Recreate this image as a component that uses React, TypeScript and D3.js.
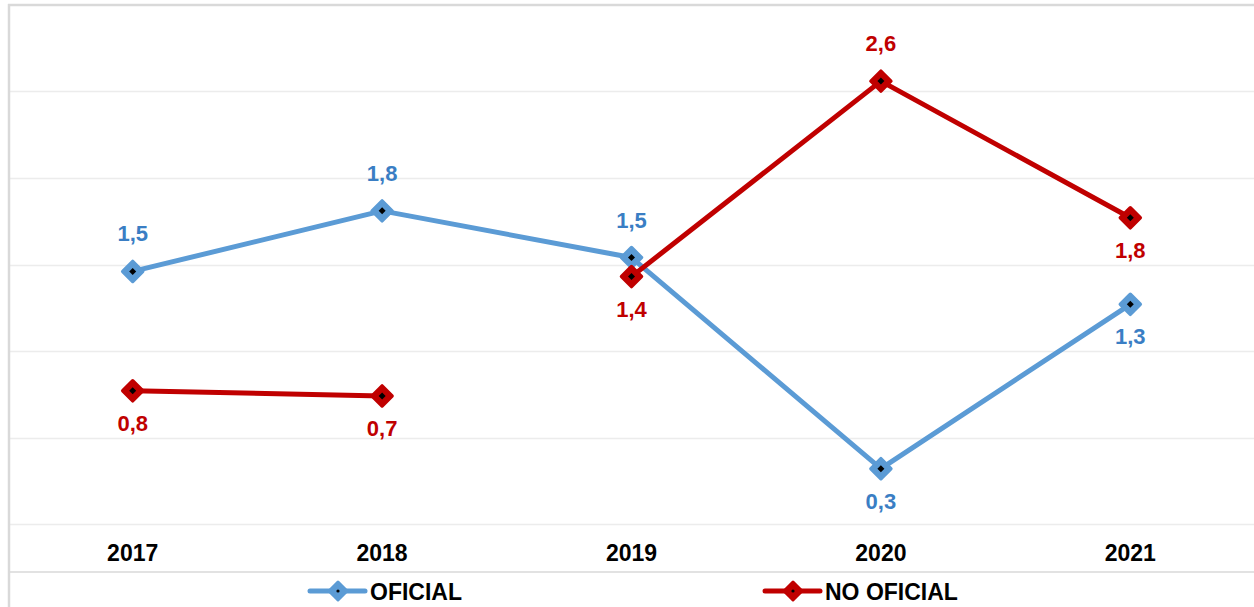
import React, { useEffect, useRef } from 'react'
import * as d3 from 'd3'

const years = ['2017', '2018', '2019', '2020', '2021']
const oficial = [1.46, 1.81, 1.54, 0.32, 1.27]
const noOficial = [0.77, 0.74, 1.43, 2.56, 1.77]
// segments of the NO OFICIAL line (no link between 2018 and 2019)
const noOficialSegments = [[0, 1], [2, 3, 4]]
const oficialSegments = [[0, 1, 2, 3, 4]]
const oficialLabelSide = ['above', 'above', 'above', 'below', 'below']
const noOficialLabelSide = ['below', 'below', 'below', 'above', 'below']
const yTicks = [0, 0.5, 1, 1.5, 2, 2.5, 3]

const WIDTH = 1254
const HEIGHT = 607
const BLUE = '#5b9bd5'
const BLUE_TEXT = '#3a7ec4'
const RED = '#c00000'
const FONT = '"Liberation Sans", Arial, sans-serif'

const locale = d3.formatLocale({ decimal: ',', thousands: '.', grouping: [3], currency: ['', '€'] })
const fmt = locale.format('.1f')

const diamond = (r: number) => `M0,${-r}L${r},0L0,${r}L${-r},0Z`

export default function App() {
    const svgRef = useRef<SVGSVGElement | null>(null)

    useEffect(() => {
        const svg = d3.select(svgRef.current)
        svg.selectAll('*').remove()

        const x = d3.scaleBand().domain(years).range([8, 1255])
        const cx = (d: string) => (x(d) as number) + x.bandwidth() / 2
        const y = d3.scaleLinear().domain([0, 3]).range([524, 5])

        // gridlines
        svg.append('g')
            .selectAll('line')
            .data(yTicks.slice(0, -1))
            .join('line')
            .attr('x1', 10)
            .attr('x2', WIDTH)
            .attr('y1', (d) => Math.round(y(d)) + 0.5)
            .attr('y2', (d) => Math.round(y(d)) + 0.5)
            .attr('stroke', '#ececec')
            .attr('stroke-width', 1.5)

        // frame
        svg.append('line').attr('x1', 8).attr('x2', WIDTH).attr('y1', 5).attr('y2', 5)
            .attr('stroke', '#d9d9d9').attr('stroke-width', 2.5)
        svg.append('line').attr('x1', 9).attr('x2', 9).attr('y1', 4).attr('y2', HEIGHT)
            .attr('stroke', '#d9d9d9').attr('stroke-width', 2.5)
        svg.append('line').attr('x1', 10).attr('x2', WIDTH).attr('y1', 572).attr('y2', 572)
            .attr('stroke', '#d9d9d9').attr('stroke-width', 1.5)

        // x axis labels
        svg.append('g')
            .selectAll('text')
            .data(years)
            .join('text')
            .attr('x', (d) => cx(d))
            .attr('y', 561)
            .attr('text-anchor', 'middle')
            .attr('font-family', FONT)
            .attr('font-weight', 'bold')
            .attr('font-size', 23)
            .attr('fill', '#000')
            .text((d) => d)

        const series = [
            { values: oficial, segments: oficialSegments, sides: oficialLabelSide, color: BLUE, text: BLUE_TEXT },
            { values: noOficial, segments: noOficialSegments, sides: noOficialLabelSide, color: RED, text: RED },
        ]

        const line = d3
            .line<number>()
            .x((i) => cx(years[i]))

        series.forEach((s) => {
            const g = svg.append('g')
            line.y((i) => y(s.values[i]))
            g.selectAll('path.seg')
                .data(s.segments)
                .join('path')
                .attr('class', 'seg')
                .attr('d', (d) => line(d))
                .attr('fill', 'none')
                .attr('stroke', s.color)
                .attr('stroke-width', 5)
                .attr('stroke-linejoin', 'round')

            const pts = g.selectAll('g.pt')
                .data(s.values)
                .join('g')
                .attr('class', 'pt')
                .attr('transform', (d, i) => `translate(${cx(years[i])},${y(d)})`)
            pts.append('path')
                .attr('d', diamond(10))
                .attr('fill', s.color)
                .attr('stroke', s.color)
                .attr('stroke-width', 3.5)
                .attr('stroke-linejoin', 'round')
            pts.append('path').attr('d', diamond(3.5)).attr('fill', '#000')

            g.selectAll('text')
                .data(s.values)
                .join('text')
                .attr('x', (d, i) => cx(years[i]))
                .attr('y', (d, i) => y(d) + (s.sides[i] === 'above' ? -30 : 40))
                .attr('text-anchor', 'middle')
                .attr('font-family', FONT)
                .attr('font-weight', 'bold')
                .attr('font-size', 22)
                .attr('fill', s.text)
                .text((d) => fmt(d))
        })

        // legend
        const legend = [
            { name: 'OFICIAL', color: BLUE, x: 310 },
            { name: 'NO OFICIAL', color: RED, x: 765 },
        ]
        const lg = svg.append('g')
            .selectAll('g')
            .data(legend)
            .join('g')
            .attr('transform', (d) => `translate(${d.x},591)`)
        lg.append('line')
            .attr('x1', 0).attr('x2', 55).attr('y1', 0).attr('y2', 0)
            .attr('stroke', (d) => d.color).attr('stroke-width', 5).attr('stroke-linecap', 'round')
        lg.append('path')
            .attr('transform', 'translate(28,0)')
            .attr('d', diamond(9))
            .attr('fill', (d) => d.color)
            .attr('stroke', (d) => d.color)
            .attr('stroke-width', 3)
            .attr('stroke-linejoin', 'round')
        lg.append('circle').attr('cx', 28).attr('cy', 0).attr('r', 1.6).attr('fill', '#000')
        lg.append('text')
            .attr('x', 60)
            .attr('y', 8.5)
            .attr('font-family', FONT)
            .attr('font-weight', 'bold')
            .attr('font-size', 23)
            .attr('fill', '#000')
            .text((d) => d.name)
    }, [])

    return (
        <svg
            ref={svgRef}
            width={WIDTH}
            height={HEIGHT}
            style={{ position: 'absolute', left: 0, top: 0, background: '#fff' }}
        />
    )
}
